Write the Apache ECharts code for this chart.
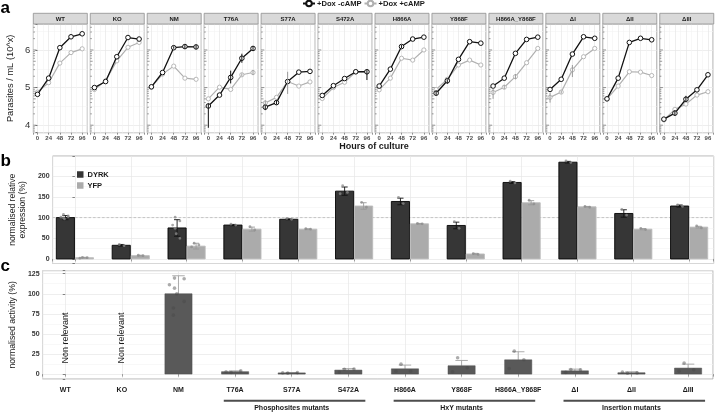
<!DOCTYPE html>
<html><head><meta charset="utf-8">
<script src="https://cdn.jsdelivr.net/npm/echarts@6/dist/echarts.min.js"></script>
<style>html,body{margin:0;padding:0;background:#fff}#c{width:716px;height:414px}</style>
</head><body><div id="c"></div>
<script>
// ---------- DATA ----------
const facets = ['WT','KO','NM','T76A','S77A','S472A','H866A','Y868F','H866A_Y868F','ΔI','ΔII','ΔIII'];
const hours = [0,24,48,72,96];
const hourTicks = [0,24,48,72,96];
const yTicksA = [4,5,6];
// log10 parasites / mL, +Dox -cAMP
const minusCamp = [
 [4.82,5.25,6.06,6.35,6.43],
 [5.00,5.16,5.82,6.33,6.29],
 [5.02,5.40,6.06,6.09,6.08],
 [4.51,4.80,5.27,5.78,6.04],
 [4.48,4.60,5.16,5.41,5.43],
 [4.79,5.05,5.24,5.42,5.42],
 [5.04,5.49,6.09,6.29,6.34],
 [4.85,5.18,5.75,6.22,6.18],
 [5.04,5.25,5.91,6.28,6.34],
 [4.95,5.22,5.89,6.35,6.31],
 [4.70,5.25,6.20,6.31,6.27],
 [4.16,4.32,4.69,4.94,5.34]
];
// log10 parasites / mL, +Dox +cAMP
const plusCamp = [
 [4.88,5.13,5.65,5.93,6.03],
 [4.95,5.18,5.71,6.07,6.20],
 [5.01,5.36,5.57,5.25,5.22],
 [4.70,5.01,4.95,5.34,5.40],
 [4.59,4.74,5.16,5.04,5.15],
 [4.71,5.00,5.14,5.42,5.42],
 [4.94,5.25,5.78,5.73,6.00],
 [4.95,5.22,5.60,5.73,5.60],
 [4.87,5.01,5.29,5.66,6.04],
 [4.74,4.88,5.47,5.82,6.04],
 [4.70,5.04,5.42,5.41,5.32],
 [4.14,4.42,4.56,4.80,4.89]
];
// visible error bars: facet, series (0 = -cAMP, 1 = +cAMP), hour, low, high
const errBars = [
 ['NM',0,48,6.03,6.10],['NM',0,72,6.03,6.14],['NM',0,96,6.02,6.14],
 ['T76A',0,0,3.93,4.58],['T76A',0,48,5.11,5.45],['T76A',0,72,5.66,5.90],['T76A',0,96,5.98,6.10],
 ['T76A',1,72,5.30,5.38],['T76A',1,96,5.33,5.47],
 ['S77A',0,0,4.40,4.56],['S77A',0,24,4.55,4.66],['S77A',1,0,4.53,4.66],['S77A',1,48,4.83,5.42],
 ['S472A',0,96,5.20,5.47],
 ['H866A',0,48,6.05,6.13],
 ['Y868F',0,0,4.80,4.92],['Y868F',0,24,5.10,5.22],
 ['H866A_Y868F',1,0,4.70,4.98],['H866A_Y868F',1,24,4.96,5.07],['H866A_Y868F',1,48,5.22,5.36],
 ['ΔI',1,0,4.60,4.86],['ΔI',1,24,4.84,4.92],['ΔI',1,48,5.28,5.60],
 ['ΔIII',0,24,4.25,4.40],['ΔIII',0,48,4.62,4.78]
];

const categories = facets;
const dyrk   = [100, 33, 75, 82, 96, 164, 139, 81, 185, 234, 110, 128];
const dyrkSd = [5, 2, 20, 1.5, 1, 10, 8, 8, 2, 2, 9, 2.5];
const yfp    = [3, 8, 31, 72, 72, 128, 85, 12, 136, 126, 72, 77];
const yfpSd  = [1, 1, 7, 5, 1, 8, 1, 1.5, 5, 1, 1.5, 2];
const dyrkPts = [[108,104,101,99,97,102],[35,32],[101,92,82,74,61,50],[84,82],[98,96],[177,161,158],[149,134],[90,74],[188,184],[237,233],[120,106],[131,127]];
const yfpPts  = [[4,3,2],[9,8],[38,34,29],[78,70],[73,72],[137,125],[86,85],[13,11],[142,133],[127,125],[74,71],[80,75]];
const refLevel = 100;

const activity   = [null,null,100,3,1.5,5,6.6,10.4,17.8,4.1,1.7,7.5];
const activitySd = [null,null,22.4,1,0.5,1.8,4.6,6.6,10,2.1,1.2,4.9];
const activityPts = [[],[],[119.5,118.7,111.2,107,100,90.5,82.2,73.4],[2,4,3],[1.2,1.8,1.5],[6,6.2,2.5],[12.4,3.7,3.7],[20.3,7.9,2.9],[28.6,17.8,7],[5.8,5.4,2.1],[1,1.5,2.5],[13.7,5.4,3.7]];
const nonRelevant = ['WT','KO'];
const groupNames = ['Phosphosites mutants','HxY mutants','Insertion mutants'];
const groupFirst = ['T76A','H866A','ΔI'];
const groupLast  = ['S472A','H866A_Y868F','ΔIII'];

// ---------- LAYOUT / STYLE ----------
const FONT = '"Liberation Sans", Arial, sans-serif';
const A = {left:33.3, pitch:56.95, width:54, top:24, height:108.7, stripTop:13.3, stripH:10.7};
const JIT = [-0.07,0.1,-0.16,-0.07,-0.03,0.1,-0.09,-0.09];
const GRID_MAJOR = '#e6e6e6', GRID_MINOR = '#f3f3f3', BORDER = '#8f8f8f';
const BLACK = '#111', GREY = '#b0b0b0';

const grids = [], xAxes = [], yAxes = [], series = [], graphics = [];

// log ticks (annotation_logticks) inside left edge of each facet
const logTicks = [];
for (let n = 3; n <= 6; n++) for (let k = 1; k <= 9; k++) {
  const v = n + Math.log10(k);
  if (v >= 3.8 && v <= 6.69) logTicks.push([v, k === 1 ? 3.2 : (k === 5 ? 2.4 : 1.6)]);
}

facets.forEach((f, i) => {
  const left = A.left + i * A.pitch;
  grids.push({left, top:A.top, width:A.width, height:A.height, show:true, borderColor:BORDER, borderWidth:0.8, backgroundColor:'#fff'});
  xAxes.push({type:'value', gridIndex:i, min:-9, max:107, minInterval:24, maxInterval:24, splitNumber:5,
    axisLine:{show:false}, axisTick:{show:true, length:2, lineStyle:{color:'#666', width:0.7}},
    axisLabel:{fontSize:6, fontWeight:'bold', color:'#4d4d4d', margin:2.5, fontFamily:FONT,
      formatter: v => hourTicks.includes(v) ? String(v) : ''},
    splitLine:{show:true, lineStyle:{color:GRID_MAJOR, width:0.7}},
    minorTick:{show:false, splitNumber:2}, minorSplitLine:{show:true, lineStyle:{color:GRID_MINOR, width:0.6}}});
  yAxes.push({type:'value', gridIndex:i, min:3.8, max:6.69, minInterval:1, maxInterval:1, splitNumber:3,
    axisLine:{show:false}, axisTick:{show:i===0, length:2, lineStyle:{color:'#444', width:0.7}},
    axisLabel:{show:i===0, fontSize:9.5, color:'#333', margin:3, fontFamily:FONT,
      formatter: v => yTicksA.includes(v) ? String(v) : ''},
    splitLine:{show:true, lineStyle:{color:GRID_MAJOR, width:0.7}},
    minorTick:{show:false, splitNumber:2}, minorSplitLine:{show:true, lineStyle:{color:GRID_MINOR, width:0.6}},
    name: i===0 ? 'Parasites / mL (10^x)' : '', nameLocation:'middle', nameGap:18,
    nameTextStyle:{fontSize:9.3, color:'#1a1a1a', fontFamily:FONT}});
  // strip
  graphics.push({type:'rect', shape:{x:left, y:A.stripTop, width:A.width, height:A.stripH},
    style:{fill:'#d9d9d9', stroke:BORDER, lineWidth:0.8}, z:10});
  graphics.push({type:'text', x:left + A.width/2, y:A.stripTop + A.stripH/2 + 0.3, z:11,
    style:{text:f, font:'bold 6px ' + FONT, fill:'#1a1a1a', align:'center', verticalAlign:'middle', textAlign:'center', textVerticalAlign:'middle'}});
  // log ticks
  series.push({type:'custom', xAxisIndex:i, yAxisIndex:i, silent:true, clip:false, z:1,
    data: logTicks, encode:{y:0},
    renderItem:(p, api) => {
      const y = api.coord([-9, api.value(0)])[1];
      const x = api.coord([-9, api.value(0)])[0];
      const len = api.value(1);
      return {type:'line', shape:{x1:x, y1:y, x2:x+len, y2:y}, style:{stroke:'#555', lineWidth:0.6}};
    }});
  // lines
  series.push({type:'line', name:'+Dox +cAMP', xAxisIndex:i, yAxisIndex:i, z:3,
    data: hours.map((h, j) => [h, plusCamp[i][j]]), color:GREY,
    lineStyle:{color:GREY, width:1.2}, symbol:'circle', symbolSize:4.2,
    itemStyle:{color:'#fff', borderColor:GREY, borderWidth:0.9}, animation:false});
  series.push({type:'line', name:'+Dox -cAMP', xAxisIndex:i, yAxisIndex:i, z:4,
    data: hours.map((h, j) => [h, minusCamp[i][j]]), color:BLACK,
    lineStyle:{color:BLACK, width:1.3}, symbol:'circle', symbolSize:4.6,
    itemStyle:{color:'#fff', borderColor:BLACK, borderWidth:1}, animation:false});
  // error bars
  const eb = errBars.filter(e => e[0] === f).map(e => [e[2], e[3], e[4], e[1]]);
  series.push({type:'custom', xAxisIndex:i, yAxisIndex:i, silent:true, z:5, clip:false,
    data: eb, encode:{x:0, y:[1,2]},
    renderItem:(p, api) => {
      const lo = api.coord([api.value(0), api.value(1)]);
      const hi = api.coord([api.value(0), api.value(2)]);
      return {type:'line', shape:{x1:lo[0], y1:lo[1], x2:hi[0], y2:hi[1]},
        style:{stroke: api.value(3) ? '#999' : BLACK, lineWidth:1}};
    }});
});

// ---------- PANEL B ----------
const GB = 12, GC = 13;
grids.push({left:33.7, right:2.3, top:156, height:107.5, show:true, borderColor:'#a0a0a0', borderWidth:0.8, backgroundColor:'#fff'});
grids.push({left:33.7, right:2.3, top:270.7, height:108.3, show:true, borderColor:'#a0a0a0', borderWidth:0.8, backgroundColor:'#fff'});
[GB, GC].forEach(g => {
  xAxes.push({type:'value', gridIndex:g, min:-0.4, max:11.44, minInterval:1, maxInterval:1, splitNumber:11,
    axisLine:{show:false}, axisTick:{show:true, length:2.5, lineStyle:{color:'#777', width:0.7}},
    axisLabel:{show:g===GC, fontSize:7, fontWeight:'bold', color:'#1a1a1a', margin:8, fontFamily:FONT,
      formatter: v => Number.isInteger(v) && categories[v] ? categories[v] : ''},
    splitLine:{show:true, lineStyle:{color:GRID_MAJOR, width:0.7}}});
});
yAxes.push({type:'value', gridIndex:GB, min:-11, max:249, minInterval:50, maxInterval:50,
  axisLine:{show:false}, axisTick:{show:true, length:2.5, lineStyle:{color:'#555', width:0.7}},
  axisLabel:{fontSize:7, fontWeight:'bold', color:'#333', margin:3, fontFamily:FONT,
    formatter: v => (v >= 0 && v % 50 === 0) ? String(v) : ''},
  splitLine:{show:true, lineStyle:{color:GRID_MAJOR, width:0.7}},
  minorTick:{show:false, splitNumber:2}, minorSplitLine:{show:true, lineStyle:{color:GRID_MINOR, width:0.6}},
  name:'normalised relative\nexpression (%)', nameLocation:'middle', nameGap:10,
  nameTextStyle:{fontSize:8.6, lineHeight:9.5, color:'#1a1a1a', fontFamily:FONT}});
yAxes.push({type:'value', gridIndex:GC, min:-6.1, max:128.7, minInterval:25, maxInterval:25,
  axisLine:{show:false}, axisTick:{show:true, length:2.5, lineStyle:{color:'#555', width:0.7}},
  axisLabel:{fontSize:7, fontWeight:'bold', color:'#333', margin:3, fontFamily:FONT,
    formatter: v => (v >= 0 && v % 25 === 0) ? String(v) : ''},
  splitLine:{show:true, lineStyle:{color:GRID_MAJOR, width:0.7}},
  minorTick:{show:false, splitNumber:2}, minorSplitLine:{show:true, lineStyle:{color:GRID_MINOR, width:0.6}},
  name:'normalised activity (%)', nameLocation:'middle', nameGap:18,
  nameTextStyle:{fontSize:8.7, color:'#1a1a1a', fontFamily:FONT}});

// reference line
series.push({type:'custom', xAxisIndex:GB, yAxisIndex:GB, silent:true, z:1, clip:false,
  data:[[refLevel]], encode:{y:0},
  renderItem:(p, api) => {
    const a = api.coord([-0.4, api.value(0)]), b = api.coord([11.44, api.value(0)]);
    return {type:'line', shape:{x1:a[0], y1:a[1], x2:b[0], y2:b[1]}, style:{stroke:'#c4c4c4', lineWidth:1, lineDash:[2.5,2]}};
  }});

function barB(side, fill, stroke) {
  return (p, api) => {
    const i = api.value(0), v = api.value(1);
    const u = api.size([1, 0])[0];
    const p0 = api.coord([i, 0]), p1 = api.coord([i, v]);
    const w = 0.325 * u;
    const x = side < 0 ? p0[0] - 0.008 * u - w : p0[0] + 0.008 * u;
    return {type:'rect', shape:{x, y:p1[1], width:w, height:p0[1] - p1[1]}, style:{fill, stroke, lineWidth:0.9}};
  };
}
series.push({type:'custom', name:'DYRK', xAxisIndex:GB, yAxisIndex:GB, z:3,
  itemStyle:{color:'#363636', borderColor:'#000'},
  data: dyrk.map((v, i) => [i, v]), encode:{x:0, y:1}, renderItem: barB(-1, '#363636', '#050505')});
series.push({type:'custom', name:'YFP', xAxisIndex:GB, yAxisIndex:GB, z:3,
  itemStyle:{color:'#ababab', borderColor:'#bdbdbd'},
  data: yfp.map((v, i) => [i, v]), encode:{x:0, y:1}, renderItem: barB(1, '#ababab', '#bcbcbc')});
// error bars b
const ebB = [];
dyrk.forEach((v, i) => ebB.push([i, v - dyrkSd[i], v + dyrkSd[i], -1]));
yfp.forEach((v, i) => ebB.push([i, v - yfpSd[i], v + yfpSd[i], 1]));
series.push({type:'custom', xAxisIndex:GB, yAxisIndex:GB, silent:true, z:4, data:ebB, encode:{x:0, y:[1,2]},
  renderItem:(p, api) => {
    const i = api.value(0), side = api.value(3);
    const u = api.size([1, 0])[0];
    const cx = api.coord([i, 0])[0] + side * 0.17 * u;
    const yl = api.coord([i, api.value(1)])[1], yh = api.coord([i, api.value(2)])[1];
    const hw = 0.055 * u, c = side < 0 ? '#111' : '#9a9a9a';
    return {type:'group', children:[
      {type:'line', shape:{x1:cx, y1:yl, x2:cx, y2:yh}, style:{stroke:c, lineWidth:0.9}},
      {type:'line', shape:{x1:cx-hw, y1:yh, x2:cx+hw, y2:yh}, style:{stroke:c, lineWidth:0.9}},
      {type:'line', shape:{x1:cx-hw, y1:yl, x2:cx+hw, y2:yl}, style:{stroke:c, lineWidth:0.9}}]};
  }});
const ptsB = [];
dyrkPts.forEach((arr, i) => arr.forEach((v, k) => ptsB.push([i, v, k, -1])));
yfpPts.forEach((arr, i) => arr.forEach((v, k) => ptsB.push([i, v, k, 1])));
series.push({type:'custom', xAxisIndex:GB, yAxisIndex:GB, silent:true, z:5, data:ptsB, encode:{x:0, y:1},
  renderItem:(p, api) => {
    const i = api.value(0), side = api.value(3), k = api.value(2);
    const u = api.size([1, 0])[0];
    const pt = api.coord([i, api.value(1)]);
    const x = pt[0] + side * 0.17 * u + JIT[k % JIT.length] * 0.5 * u;
    return {type:'circle', shape:{cx:x, cy:pt[1], r:1.4}, style:{fill:'rgba(140,140,140,0.75)'}};
  }});

// ---------- PANEL C ----------
const ebC = [], barsC = [], ptsC = [];
activity.forEach((v, i) => { if (v != null) { barsC.push([i, v]); ebC.push([i, v, v + activitySd[i]]); } });
activityPts.forEach((arr, i) => arr.forEach((v, k) => ptsC.push([i, v, k])));
series.push({type:'custom', xAxisIndex:GC, yAxisIndex:GC, silent:true, z:3, data:ebC, encode:{x:0, y:[1,2]},
  renderItem:(p, api) => {
    const i = api.value(0), u = api.size([1, 0])[0];
    const b = api.coord([i, api.value(1)]), t = api.coord([i, api.value(2)]);
    const hw = 0.11 * u;
    return {type:'group', children:[
      {type:'line', shape:{x1:b[0], y1:b[1], x2:t[0], y2:t[1]}, style:{stroke:'#a3a3a3', lineWidth:0.9}},
      {type:'line', shape:{x1:t[0]-hw, y1:t[1], x2:t[0]+hw, y2:t[1]}, style:{stroke:'#a3a3a3', lineWidth:0.9}}]};
  }});
series.push({type:'custom', xAxisIndex:GC, yAxisIndex:GC, silent:true, z:4, data:barsC, encode:{x:0, y:1},
  renderItem:(p, api) => {
    const i = api.value(0), u = api.size([1, 0])[0];
    const p0 = api.coord([i, 0]), p1 = api.coord([i, api.value(1)]);
    const w = 0.48 * u;
    return {type:'rect', shape:{x:p0[0] - w/2, y:p1[1], width:w, height:p0[1] - p1[1]}, style:{fill:'#595959', stroke:'#4f4f4f', lineWidth:0.5}};
  }});
series.push({type:'custom', xAxisIndex:GC, yAxisIndex:GC, silent:true, z:5, data:ptsC, encode:{x:0, y:1},
  renderItem:(p, api) => {
    const i = api.value(0), k = api.value(2), u = api.size([1, 0])[0];
    const pt = api.coord([i, api.value(1)]);
    return {type:'circle', shape:{cx:pt[0] + JIT[k % JIT.length] * u, cy:pt[1], r:1.8}, style:{fill:'rgba(70,70,70,0.45)'}};
  }});
series.push({type:'custom', xAxisIndex:GC, yAxisIndex:GC, silent:true, z:5, clip:false,
  data: nonRelevant.map(n => [categories.indexOf(n), 0]), encode:{x:0, y:1},
  renderItem:(p, api) => {
    const pt = api.coord([api.value(0), api.value(1)]);
    return {type:'text', x:pt[0], y:pt[1] - 10.5, rotation:Math.PI/2,
      style:{text:'Non relevant', font:'9px ' + FONT, fill:'#1a1a1a', align:'left', verticalAlign:'middle', textAlign:'left', textVerticalAlign:'middle'}};
  }});
series.push({type:'custom', xAxisIndex:GC, yAxisIndex:GC, silent:true, z:5, clip:false,
  data: groupNames.map((n, g) => [categories.indexOf(groupFirst[g]), categories.indexOf(groupLast[g]), g]),
  encode:{x:[0,1]},
  renderItem:(p, api) => {
    const a = api.coord([api.value(0) - 0.2, -6.1]), b = api.coord([api.value(1) + 0.3, -6.1]);
    const y = a[1] + 21.7;
    const mid = (api.coord([api.value(0), 0])[0] + api.coord([api.value(1), 0])[0]) / 2;
    return {type:'group', children:[
      {type:'line', shape:{x1:a[0], y1:y, x2:b[0], y2:y}, style:{stroke:'#4d4d4d', lineWidth:2}},
      {type:'text', x:mid, y:y + 7.8, style:{text:groupNames[api.value(2)], font:'bold 7px ' + FONT, fill:'#1a1a1a',
        align:'center', verticalAlign:'middle', textAlign:'center', textVerticalAlign:'middle'}}]};
  }});

// ---------- TEXT ANNOTATIONS ----------
graphics.push({type:'text', x:374, y:147, style:{text:'Hours of culture', font:'bold 9px ' + FONT, fill:'#1a1a1a', align:'center', verticalAlign:'middle', textAlign:'center', textVerticalAlign:'middle'}});
[['a', 8], ['b', 161], ['c', 266.5]].forEach(([t, y]) => graphics.push({type:'text', x:0.5, y,
  style:{text:t, font:'bold 17px ' + FONT, fill:'#000', align:'left', verticalAlign:'middle', textAlign:'left', textVerticalAlign:'middle'}}));

const chart = echarts.init(document.getElementById('c'), null, {renderer:'canvas', width:716, height:414});
chart.setOption({
  animation:false,
  textStyle:{fontFamily:FONT},
  grid: grids, xAxis: xAxes, yAxis: yAxes, series,
  legend:[
    {data:['+Dox -cAMP', '+Dox +cAMP'], left:302, top:-0.5, itemWidth:12, itemHeight:7, itemGap:2, padding:0,
     textStyle:{fontSize:7.6, fontWeight:'bold', color:'#1a1a1a', fontFamily:FONT, padding:[0,0,0,-3]}, selectedMode:false},
    {data:[{name:'DYRK', icon:'rect'}, {name:'YFP', icon:'rect'}], orient:'vertical', left:77, top:170.5,
     itemWidth:6.5, itemHeight:6.5, itemGap:3, padding:0, selectedMode:false,
     textStyle:{fontSize:7.5, fontWeight:'bold', color:'#1a1a1a', fontFamily:FONT, padding:[0,0,0,-1]}}
  ],
  graphic: graphics
});
</script></body></html>
